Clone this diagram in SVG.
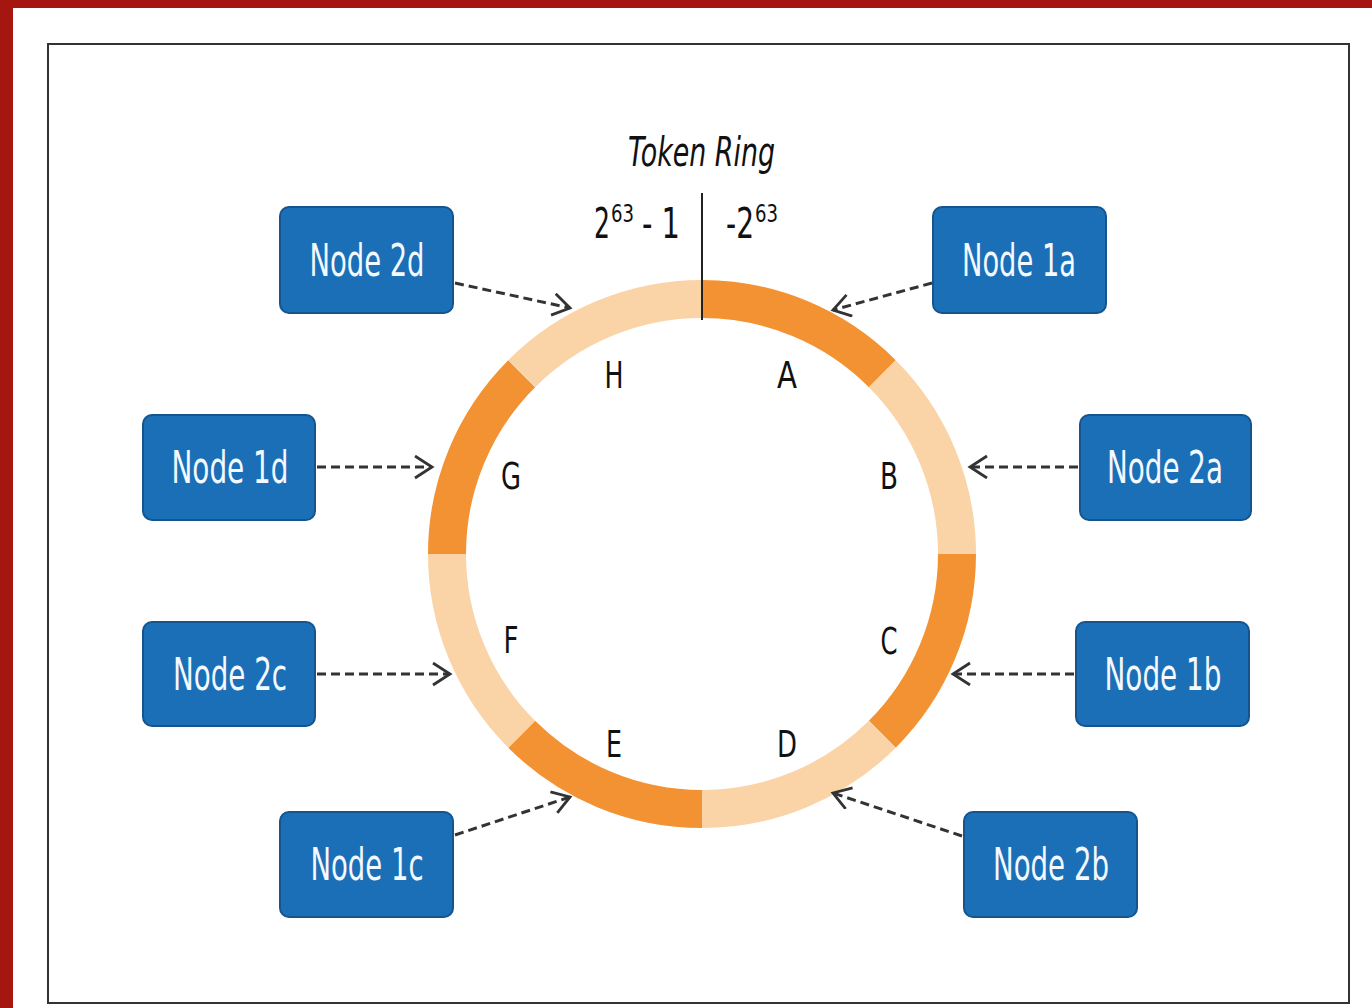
<svg xmlns="http://www.w3.org/2000/svg" width="1372" height="1008" viewBox="0 0 1372 1008">
<style>
.node rect{fill:#1b6fb6;stroke:#15548c;stroke-width:2}
.node text{fill:#f4f8ff;font-family:"DejaVu Sans Condensed","Liberation Sans",sans-serif;font-size:44px;text-anchor:middle}
.seg{fill:none;stroke-width:38}
.dark{stroke:#f39232}
.light{stroke:#fad3a6}
.lbl{font-family:"DejaVu Sans Condensed","Liberation Sans",sans-serif;font-size:38px;fill:#111;text-anchor:middle}
.tt{font-family:"DejaVu Sans Condensed","Liberation Sans",sans-serif;fill:#111}
.conn line{stroke:#333;stroke-width:3;stroke-dasharray:9 5;marker-end:url(#arr)}
</style>
<defs>
<marker id="arr" markerWidth="22" markerHeight="26" refX="19" refY="12" orient="auto" markerUnits="userSpaceOnUse">
<path d="M2,1 L19,12 L2,23" fill="none" stroke="#333" stroke-width="2.8"/>
</marker>
</defs>
<rect x="0" y="0" width="1372" height="1008" fill="#a61611"/>
<rect x="13" y="8" width="1359" height="1000" fill="#ffffff"/>
<rect x="48" y="44" width="1301" height="959" fill="#ffffff" stroke="#333" stroke-width="2"/>
<g id="ring">
<path class="seg dark" d="M702,299 A255,255 0 0 1 882.3,373.7"/>
<path class="seg light" d="M882.3,373.7 A255,255 0 0 1 957,554"/>
<path class="seg dark" d="M957,554 A255,255 0 0 1 882.3,734.3"/>
<path class="seg light" d="M882.3,734.3 A255,255 0 0 1 702,809"/>
<path class="seg dark" d="M702,809 A255,255 0 0 1 521.7,734.3"/>
<path class="seg light" d="M521.7,734.3 A255,255 0 0 1 447,554"/>
<path class="seg dark" d="M447,554 A255,255 0 0 1 521.7,373.7"/>
<path class="seg light" d="M521.7,373.7 A255,255 0 0 1 702,299"/>
<line x1="702" y1="193" x2="702" y2="320" stroke="#222" stroke-width="2"/>
<text class="lbl" x="787" y="388" textLength="20" lengthAdjust="spacingAndGlyphs">A</text>
<text class="lbl" x="889" y="489" textLength="18" lengthAdjust="spacingAndGlyphs">B</text>
<text class="lbl" x="889" y="654" textLength="17" lengthAdjust="spacingAndGlyphs">C</text>
<text class="lbl" x="787" y="757" textLength="20" lengthAdjust="spacingAndGlyphs">D</text>
<text class="lbl" x="614" y="757" textLength="16" lengthAdjust="spacingAndGlyphs">E</text>
<text class="lbl" x="511" y="653" textLength="15" lengthAdjust="spacingAndGlyphs">F</text>
<text class="lbl" x="511" y="489" textLength="20" lengthAdjust="spacingAndGlyphs">G</text>
<text class="lbl" x="614" y="388" textLength="19" lengthAdjust="spacingAndGlyphs">H</text>
</g>
<g id="title">
<text class="tt" x="628" y="166" font-style="italic" font-size="40" textLength="147" lengthAdjust="spacingAndGlyphs">Token Ring</text>
<text class="tt" x="594" y="238" font-size="42" textLength="16" lengthAdjust="spacingAndGlyphs">2</text>
<text class="tt" x="611" y="222" font-size="24" textLength="23" lengthAdjust="spacingAndGlyphs">63</text>
<text class="tt" x="642" y="238" font-size="42" textLength="38" lengthAdjust="spacingAndGlyphs">- 1</text>
<text class="tt" x="726" y="238" font-size="42" textLength="28" lengthAdjust="spacingAndGlyphs">-2</text>
<text class="tt" x="755" y="222" font-size="24" textLength="23" lengthAdjust="spacingAndGlyphs">63</text>
</g>
<g class="node" id="node-2d"><rect x="280" y="207" width="173" height="106" rx="9"/><text x="367" y="276" textLength="115" lengthAdjust="spacingAndGlyphs">Node 2d</text></g>
<g class="node" id="node-1a"><rect x="933" y="207" width="173" height="106" rx="9"/><text x="1019" y="276" textLength="114" lengthAdjust="spacingAndGlyphs">Node 1a</text></g>
<g class="node" id="node-1d"><rect x="143" y="415" width="172" height="105" rx="9"/><text x="230" y="483" textLength="117" lengthAdjust="spacingAndGlyphs">Node 1d</text></g>
<g class="node" id="node-2a"><rect x="1080" y="415" width="171" height="105" rx="9"/><text x="1165" y="483" textLength="116" lengthAdjust="spacingAndGlyphs">Node 2a</text></g>
<g class="node" id="node-2c"><rect x="143" y="622" width="172" height="104" rx="9"/><text x="230" y="690" textLength="114" lengthAdjust="spacingAndGlyphs">Node 2c</text></g>
<g class="node" id="node-1b"><rect x="1076" y="622" width="173" height="104" rx="9"/><text x="1163" y="690" textLength="117" lengthAdjust="spacingAndGlyphs">Node 1b</text></g>
<g class="node" id="node-1c"><rect x="280" y="812" width="173" height="105" rx="9"/><text x="367" y="880" textLength="113" lengthAdjust="spacingAndGlyphs">Node 1c</text></g>
<g class="node" id="node-2b"><rect x="964" y="812" width="173" height="105" rx="9"/><text x="1051" y="880" textLength="116" lengthAdjust="spacingAndGlyphs">Node 2b</text></g>
<g class="conn" id="connectors">
<line x1="455" y1="283" x2="570" y2="308"/>
<line x1="932" y1="283" x2="833" y2="310"/>
<line x1="317" y1="467" x2="432" y2="467"/>
<line x1="1078" y1="467" x2="970" y2="467"/>
<line x1="317" y1="674" x2="450" y2="674"/>
<line x1="1074" y1="674" x2="953" y2="674"/>
<line x1="455" y1="835" x2="570" y2="797"/>
<line x1="962" y1="836" x2="833" y2="793"/>
</g>
</svg>
